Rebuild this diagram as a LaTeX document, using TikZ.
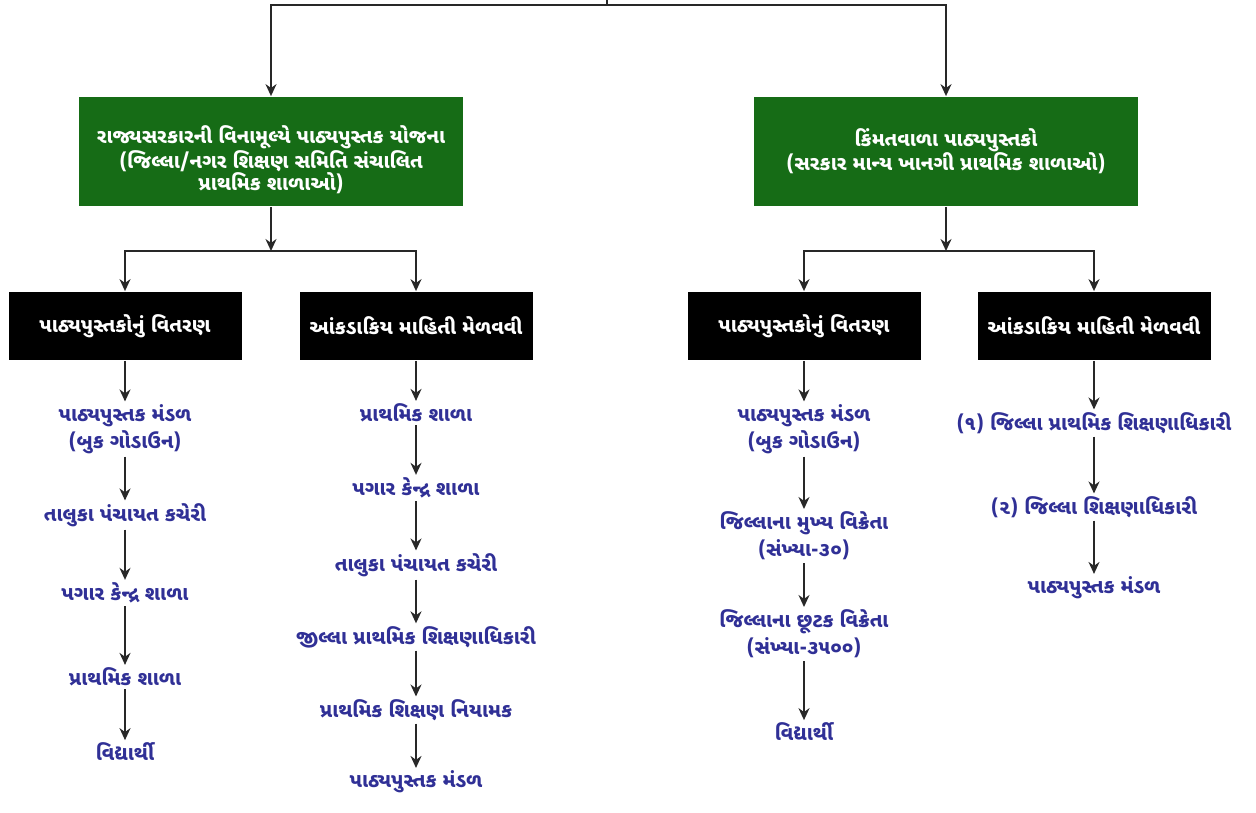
\documentclass[tikz,border=0pt]{standalone}
\usepackage{fontspec}
\newfontfamily\gujfont[Script=Gujarati]{Noto Sans Gujarati UI}
\usepackage{xcolor}
\usepackage{tikz}
\usetikzlibrary{arrows.meta, positioning}
\definecolor{boxgreen}{RGB}{22,108,22}
\definecolor{itemblue}{RGB}{48,48,150}
\definecolor{linegray}{RGB}{40,40,40}

\begin{document}
\begin{tikzpicture}[
            x=1pt, y=-1pt,
            every node/.style={font=\gujfont\bfseries\fontsize{20}{22}\selectfont, align=center},
            greenbox/.style={fill=boxgreen, text=white, minimum width=384pt, minimum height=109pt},
            blackbox/.style={fill=black, text=white, minimum width=233pt, minimum height=68pt},
            item/.style={text=itemblue, inner sep=2pt, font=\gujfont\bfseries\fontsize{20}{27}\selectfont},
            link/.style={->, draw=linegray},
            line width=1.8pt, >={Stealth[length=12pt, width=11pt]},
        ]
        \useasboundingbox (0,0) rectangle (1256,812);
        \coordinate (stub) at (607,0);
        \coordinate (top) at (607,5);
        \coordinate (j1) at (271,251);
        \coordinate (j2) at (946,251);
        % top level
        \node[greenbox] (g1) at (271,151.5) {\rule{0pt}{34pt}રાજ્યસરકારની વિનામૂલ્યે પાઠ્યપુસ્તક યોજના\\(જિલ્લા/નગર શિક્ષણ સમિતિ સંચાલિત\\પ્રાથમિક શાળાઓ)};
        \node[greenbox] (g2) at (946,151.5) {કિંમતવાળા પાઠ્યપુસ્તકો\\(સરકાર માન્ય ખાનગી પ્રાથમિક શાળાઓ)};
        \draw[draw=linegray] (stub) -- (top);
        \draw[link] (top) -| (g1.north);
        \draw[link] (top) -| (g2.north);
        % second level
        \node[blackbox] (b1) at (125,326) {પાઠ્યપુસ્તકોનું વિતરણ};
        \node[blackbox] (b2) at (416,326) {આંકડાકિય માહિતી મેળવવી};
        \node[blackbox] (b3) at (804,326) {પાઠ્યપુસ્તકોનું વિતરણ};
        \node[blackbox] (b4) at (1094,326) {આંકડાકિય માહિતી મેળવવી};
        \draw[link] (g1) -- (j1);
        \draw[link] (j1) -| (b1);
        \draw[link] (j1) -| (b2);
        \draw[link] (g2) -- (j2);
        \draw[link] (j2) -| (b3);
        \draw[link] (j2) -| (b4);
        % first column
        \node[item] (i11) at (125,429) {પાઠ્યપુસ્તક મંડળ\\(બુક ગોડાઉન)};
        \node[item] (i12) at (125,515) {તાલુકા પંચાયત કચેરી};
        \node[item] (i13) at (125,593) {પગાર કેન્દ્ર શાળા};
        \node[item] (i14) at (125,677) {પ્રાથમિક શાળા};
        \node[item] (i15) at (125,752) {વિદ્યાર્થી};
        % second column
        \node[item] (i21) at (416,413) {પ્રાથમિક શાળા};
        \node[item] (i22) at (416,488) {પગાર કેન્દ્ર શાળા};
        \node[item] (i23) at (416,565) {તાલુકા પંચાયત કચેરી};
        \node[item] (i24) at (416,637) {જીલ્લા પ્રાથમિક શિક્ષણાધિકારી};
        \node[item] (i25) at (416,710) {પ્રાથમિક શિક્ષણ નિયામક};
        \node[item] (i26) at (416,782) {પાઠ્યપુસ્તક મંડળ};
        % third column
        \node[item] (i31) at (804,429) {પાઠ્યપુસ્તક મંડળ\\(બુક ગોડાઉન)};
        \node[item] (i32) at (804,536) {જિલ્લાના મુખ્ય વિક્રેતા\\(સંખ્યા-૩૦)};
        \node[item] (i33) at (804,634) {જિલ્લાના છૂટક વિક્રેતા\\(સંખ્યા-૩૫૦૦)};
        \node[item] (i34) at (804,732) {વિદ્યાર્થી};
        % fourth column
        \node[item] (i41) at (1094,423) {(૧) જિલ્લા પ્રાથમિક શિક્ષણાધિકારી};
        \node[item] (i42) at (1094,507) {(૨) જિલ્લા શિક્ષણાધિકારી};
        \node[item] (i43) at (1094,588) {પાઠ્યપુસ્તક મંડળ};
        \foreach \a/\b in {b1/i11, i11/i12, i12/i13, i13/i14, i14/i15,
                b2/i21, i21/i22, i22/i23, i23/i24, i24/i25, i25/i26,
                b3/i31, i31/i32, i32/i33, i33/i34,
                b4/i41, i41/i42, i42/i43}
            \draw[link] (\a) -- (\b);
\end{tikzpicture}
\end{document}
